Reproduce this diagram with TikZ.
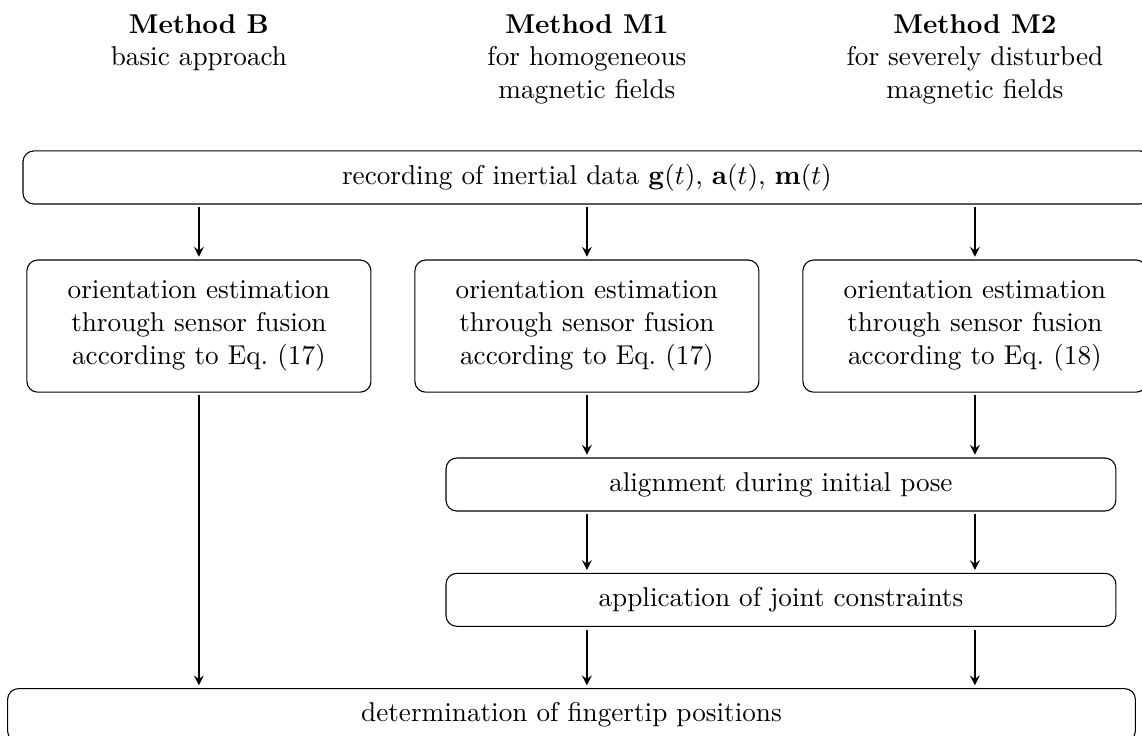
\documentclass[tikz,border=0pt]{standalone}
\usetikzlibrary{positioning, arrows.meta, calc}

\begin{document}
\begin{tikzpicture}[-stealth, semithick, shorten < = 1pt, shorten > = 1pt, draw = black,
  box/.style = {draw, thin, -, shorten < = 0pt, shorten > = 0pt, rounded corners, align = center, minimum height = 19.5pt},
  method/.style = {box, minimum width = 126.5pt, minimum height = 48.6pt},
  head/.style = {align = center, anchor = north}]
  \useasboundingbox (0,0) rectangle (419.9pt,-270.6pt);

  \node (recording) [box, minimum width = 414.7pt] at (215.8pt,-65.25pt) {recording of inertial data $\mathbf{g}(t)$, $\mathbf{a}(t)$, $\mathbf{m}(t)$};
  \node (m1) [method, below = 20.2pt of recording] {orientation estimation\\through sensor fusion\\according to Eq.~(17)};
  \node (b) [method, left = 15.76pt of m1] {orientation estimation\\through sensor fusion\\according to Eq.~(17)};
  \node (m2) [method, right = 15.76pt of m1] {orientation estimation\\through sensor fusion\\according to Eq.~(18)};

  % headers above the three columns
  \coordinate (top) at (0,-1.6pt);
  \node (headb) [head] at (b |- top) {\textbf{Method B}\\basic approach};
  \node (headm1) [head] at (m1 |- top) {\textbf{Method M1}\\for homogeneous\\magnetic fields};
  \node (headm2) [head] at (m2 |- top) {\textbf{Method M2}\\for severely disturbed\\magnetic fields};

  \coordinate (mid) at ($(m1.south)!0.5!(m2.south)$);
  \node (alignment) [box, minimum width = 246.3pt, below = 23.8pt of mid] {alignment during initial pose};
  \node (joint) [box, minimum width = 246.3pt, below = 22.5pt of alignment] {application of joint constraints};
  \node (fingertip) [box, minimum width = 414.7pt, below = 22.5pt of joint, xshift = -77pt] {determination of fingertip positions};

  \draw (recording.south -| b) -- (b);
  \draw (recording.south -| m1) -- (m1);
  \draw (recording.south -| m2) -- (m2);
  \draw (b) -- (fingertip.north -| b);
  \draw (m1) -- (alignment.north -| m1);
  \draw (m2) -- (alignment.north -| m2);
  \draw (alignment.south -| m1) -- (joint.north -| m1);
  \draw (alignment.south -| m2) -- (joint.north -| m2);
  \draw (joint.south -| m1) -- (fingertip.north -| m1);
  \draw (joint.south -| m2) -- (fingertip.north -| m2);
\end{tikzpicture}
\end{document}
